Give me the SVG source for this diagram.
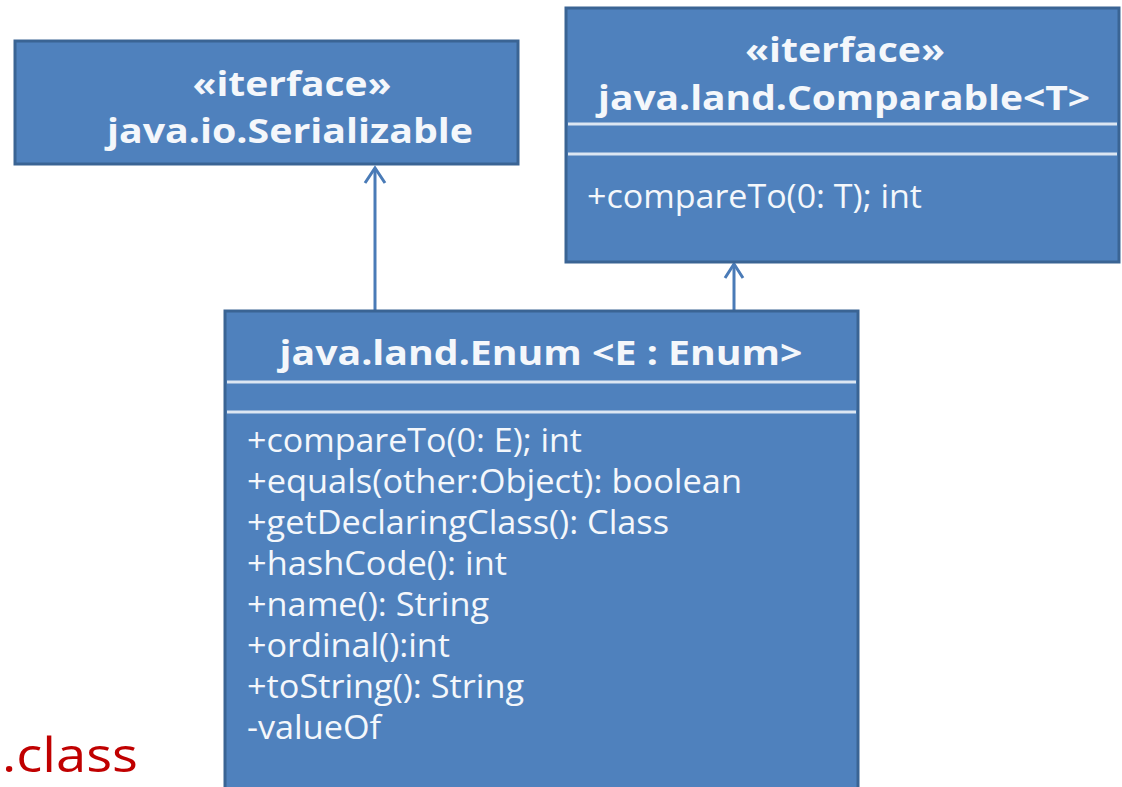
<svg xmlns="http://www.w3.org/2000/svg" width="1122" height="787" viewBox="0 0 1122 787">
<defs>
<style>
.box{fill:#4f81bd;stroke:#3a6494;stroke-width:3}
.sep{stroke:#dce6f2;stroke-width:3}
.t{font-family:"Open Sans","Liberation Sans",sans-serif;fill:#f4f7fb}
.b{font-weight:bold;font-size:34px;text-anchor:middle}
.m{font-size:33px}
.conn{stroke:#4a7bb7;stroke-width:3;fill:none}
</style>
</defs>
<rect width="1122" height="787" fill="#ffffff"/>
<g id="connectors">
<line class="conn" x1="375" y1="310" x2="375" y2="168"/>
<path class="conn" d="M365,183 L375,168 L385,183"/>
<line class="conn" x1="734" y1="312" x2="734" y2="264"/>
<path class="conn" d="M725,278 L734,264 L743,278"/>
</g>
<g id="serializable">
<rect class="box" x="15" y="41" width="503" height="123"/>
<text class="t b" x="292" y="96" textLength="199" lengthAdjust="spacingAndGlyphs">«iterface»</text>
<text class="t b" x="290" y="143" textLength="366" lengthAdjust="spacingAndGlyphs">java.io.Serializable</text>
</g>
<g id="comparable">
<rect class="box" x="566" y="8" width="553" height="254"/>
<text class="t b" x="845" y="62" textLength="200" lengthAdjust="spacingAndGlyphs">«iterface»</text>
<text class="t b" x="844" y="110" textLength="492" lengthAdjust="spacingAndGlyphs">java.land.Comparable&lt;T&gt;</text>
<line class="sep" x1="568" y1="124" x2="1117" y2="124"/>
<line class="sep" x1="568" y1="154" x2="1117" y2="154"/>
<text class="t m" x="587" y="208" textLength="335" lengthAdjust="spacingAndGlyphs">+compareTo(0: T); int</text>
</g>
<g id="enum">
<rect class="box" x="225" y="311" width="633" height="490"/>
<text class="t b" x="541" y="365" textLength="523" lengthAdjust="spacingAndGlyphs">java.land.Enum &lt;E : Enum&gt;</text>
<line class="sep" x1="227" y1="382" x2="856" y2="382"/>
<line class="sep" x1="227" y1="412" x2="856" y2="412"/>
<text class="t m" x="247" y="452" textLength="335" lengthAdjust="spacingAndGlyphs">+compareTo(0: E); int</text>
<text class="t m" x="247" y="493" textLength="495" lengthAdjust="spacingAndGlyphs">+equals(other:Object): boolean</text>
<text class="t m" x="247" y="534" textLength="422" lengthAdjust="spacingAndGlyphs">+getDeclaringClass(): Class</text>
<text class="t m" x="247" y="575" textLength="260" lengthAdjust="spacingAndGlyphs">+hashCode(): int</text>
<text class="t m" x="247" y="616" textLength="242" lengthAdjust="spacingAndGlyphs">+name(): String</text>
<text class="t m" x="247" y="657" textLength="203" lengthAdjust="spacingAndGlyphs">+ordinal():int</text>
<text class="t m" x="247" y="698" textLength="277" lengthAdjust="spacingAndGlyphs">+toString(): String</text>
<text class="t m" x="247" y="739" textLength="134" lengthAdjust="spacingAndGlyphs">-valueOf</text>
</g>
<text id="class-label" x="2" y="772" font-family="Open Sans, Liberation Sans, sans-serif" font-size="48" fill="#c00000" textLength="136" lengthAdjust="spacingAndGlyphs">.class</text>
</svg>
